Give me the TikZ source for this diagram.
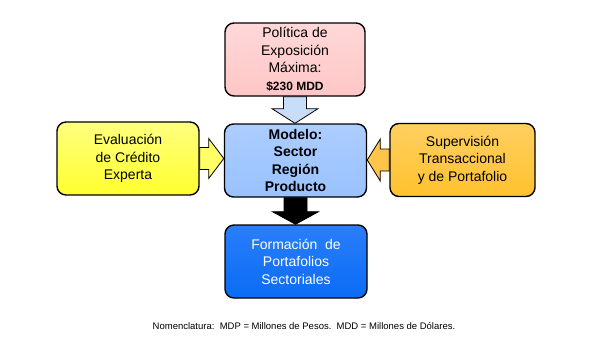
\documentclass[tikz,border=0pt]{standalone}
\usepackage{fontspec}
\setmainfont{Liberation Sans}
\usetikzlibrary{calc}
\definecolor{pinkbox}{HTML}{FFC6C6}
\definecolor{pinkboxT}{HTML}{FFD8D8}
\definecolor{yelbox}{HTML}{FFFF2E}
\definecolor{yelboxT}{HTML}{FFFF80}
\definecolor{orabox}{HTML}{FFC12E}
\definecolor{oraboxT}{HTML}{FFD060}
\definecolor{ltblue}{HTML}{99C2FF}
\definecolor{ltblueT}{HTML}{ACCDFF}
\definecolor{dkblue}{HTML}{0A6CF5}
\definecolor{dkblueT}{HTML}{2A7EFA}
\definecolor{arrblue}{HTML}{C8DDF8}
\definecolor{arryel}{HTML}{FFFF66}
\definecolor{arrora}{HTML}{FFC44A}
\tikzset{
  box/.style={draw=black, line width=1.4pt, rounded corners=9pt,
    minimum width=142pt, minimum height=73pt, align=center,
    font=\fontsize{14}{17.5}\selectfont, inner sep=0pt},
  fatarrow/.style={draw=black, line width=0.8pt, line join=miter},
}
\begin{document}
\begin{tikzpicture}[x=1pt,y=-1pt]
\useasboundingbox[fill=white] (0,0) rectangle (602,349);
\node[box, top color=pinkboxT, bottom color=pinkbox, minimum width=140pt] (pol) at (295,59.5)
  {Política de\\Exposición\\Máxima:\\{\bfseries\fontsize{12}{17.5}\selectfont \$230 MDD}};
\node[box, top color=ltblueT, bottom color=ltblue, font=\bfseries\fontsize{14}{17.5}\selectfont] (mod) at (295.5,160.5)
  {Modelo:\\Sector\\Región\\Producto};
\node[box, top color=dkblueT, bottom color=dkblue, text=white] (for) at (296,261.5)
  {Formación\ \ de\\Portafolios\\Sectoriales};
\node[box, top color=yelboxT, bottom color=yelbox] (eva) at (128,158.5)
  {Evaluación\\de Crédito\\Experta};
\node[box, top color=oraboxT, bottom color=orabox, minimum width=145pt] (sup) at (462.5,160)
  {Supervisión\\Transaccional\\y de Portafolio};
% top arrow
\draw[fatarrow, fill=arrblue]
  ($(pol.south)+(-11.5,0)$) -- ($(pol.south)+(11.5,0)$) -- ($(pol.south)+(11.5,12)$)
  -- ($(pol.south)+(23,12)$) -- (pol.south |- mod.north) -- ($(pol.south)+(-23,12)$)
  -- ($(pol.south)+(-11.5,12)$) -- cycle;
% bottom arrow
\draw[fatarrow, fill=black]
  ($(mod.south)+(-11.5,0)$) -- ($(mod.south)+(11.5,0)$) -- ($(mod.south)+(11.5,14)$)
  -- ($(mod.south)+(23,14)$) -- (mod.south |- for.north) -- ($(mod.south)+(-23,14)$)
  -- ($(mod.south)+(-11.5,14)$) -- cycle;
% left arrow
\draw[fatarrow, fill=arryel]
  ($(eva.east)+(0,-11)$) -- ($(eva.east)+(9,-11)$) -- ($(eva.east)+(9,-20)$)
  -- (mod.west |- eva.east) -- ($(eva.east)+(9,20)$) -- ($(eva.east)+(9,11)$)
  -- ($(eva.east)+(0,11)$) -- cycle;
% right arrow
\draw[fatarrow, fill=arrora]
  ($(sup.west)+(0,-11)$) -- ($(sup.west)+(-9,-11)$) -- ($(sup.west)+(-9,-21)$)
  -- (mod.east |- sup.west) -- ($(sup.west)+(-9,21)$) -- ($(sup.west)+(-9,11)$)
  -- ($(sup.west)+(0,11)$) -- cycle;
\node[font=\fontsize{9.5}{11}\selectfont] (nom) at (304,326)
  {Nomenclatura:\ \ MDP = Millones de Pesos.\ \ MDD = Millones de Dólares.};
\end{tikzpicture}
\end{document}
